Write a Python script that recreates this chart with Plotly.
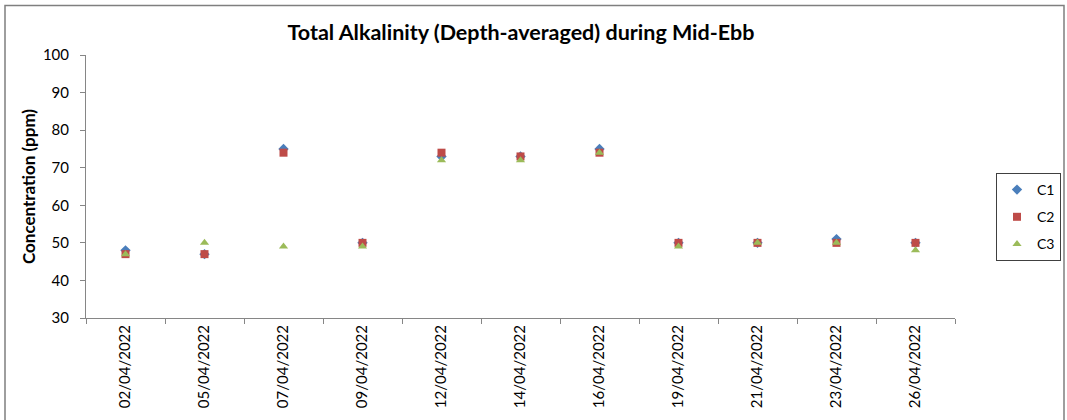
import plotly.graph_objects as go

dates = ["02/04/2022", "05/04/2022", "07/04/2022", "09/04/2022", "12/04/2022",
         "14/04/2022", "16/04/2022", "19/04/2022", "21/04/2022", "23/04/2022", "26/04/2022"]
c1 = [48, 47, 75, 50, 73, 73, 75, 50, 50, 51, 50]
c2 = [47, 47, 74, 50, 74, 73, 74, 50, 50, 50, 50]
c3 = [47, 50, 49, 49, 72, 72, 74, 49, 50, 50, 48]

FONT = "Lato"
fig = go.Figure()
fig.add_trace(go.Scatter(x=dates, y=c1, mode="markers", name="C1", legendgroup="1",
                         marker=dict(symbol="diamond", size=8, color="#4A7EBB")))
fig.add_trace(go.Scatter(x=dates, y=c2, mode="markers", name="C2", legendgroup="2",
                         marker=dict(symbol="square", size=8, color="#BE4B48")))
fig.add_trace(go.Scatter(x=dates, y=c3, mode="markers", name="C3", legendgroup="3",
                         marker=dict(symbol="triangle-up", size=8, color="#9BBB59")))

L, R, T, B = 86, 112, 55, 100
W, H = 1067, 420
pw, ph = W - L - R, H - T - B

def px(x):
    return (x - L) / pw

def py(y):
    return (H - B - y) / ph

fig.update_layout(
    width=W, height=H, autosize=False,
    margin=dict(l=L, r=R, t=T, b=B),
    paper_bgcolor="white", plot_bgcolor="white",
    font=dict(family=FONT, color="black"),
    title=dict(text="<b>Total Alkalinity (Depth-averaged) during Mid-Ebb</b>",
               xref="container", yref="container",
               x=521 / W, xanchor="center", y=1 - 32 / H, yanchor="middle",
               font=dict(size=21.5, family=FONT)),
    showlegend=True,
    legend=dict(xref="container", yref="container",
                x=996 / W, y=1 - 173 / H, xanchor="left", yanchor="top",
                bordercolor="#404040", borderwidth=1, bgcolor="white",
                font=dict(size=14, family=FONT), tracegroupgap=6,
                traceorder="grouped", itemwidth=30),
    xaxis=dict(type="category", showgrid=False, showline=True, linecolor="#868686",
               linewidth=1, ticks="outside", ticklen=5, tickcolor="#868686",
               tickson="boundaries", tickangle=-90, tickfont=dict(size=15),
               range=[-0.5, len(dates) - 0.5]),
    yaxis=dict(range=[30, 100], dtick=10, showgrid=False, showline=True,
               linecolor="#868686", linewidth=1, ticks="outside", ticklen=5,
               tickcolor="#868686", tickfont=dict(size=15), zeroline=False,
               ticklabelstandoff=8,
               title=dict(text="<b>Concentration (ppm)</b>", font=dict(size=17), standoff=2)),
    shapes=[dict(type="rect", xref="paper", yref="paper",
                 x0=px(5), x1=px(1064), y0=py(430), y1=py(5),
                 line=dict(color="#7f7f7f", width=1.5), fillcolor="rgba(0,0,0,0)", layer="below")],
)

fig.write_html("out.html",
               config={"displayModeBar": False, "responsive": False},
               post_script="document.body.style.margin='0';document.body.style.overflow='hidden';")
